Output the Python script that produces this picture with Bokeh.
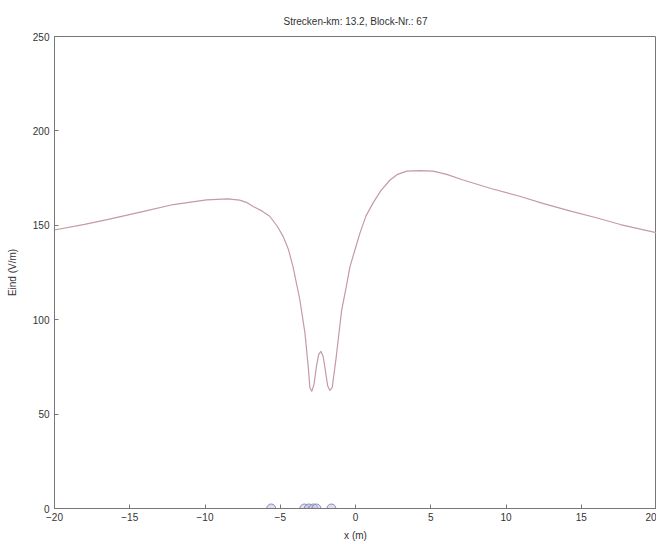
from bokeh.plotting import figure
from bokeh.models import Range1d, FixedTicker
from bokeh.embed import file_html
from bokeh.resources import INLINE

title_text = "Strecken-km: 13.2, Block-Nr.: 67"
x_label = "x (m)"
y_label = "Eind (V/m)"

x_vals = [-20, -18, -16.5, -14, -12.1, -9.9, -8.5, -7.7, -7.2, -6.8, -6.2, -5.7, -5.2, -4.8, -4.45,
          -4.15, -3.7, -3.36, -3.14, -3.03, -2.9, -2.75, -2.6, -2.45, -2.3, -2.15, -2.0, -1.85, -1.7,
          -1.55, -1.3, -0.92, -0.6, -0.37, 0.0, 0.3, 0.7, 1.18, 1.7, 2.3, 2.8, 3.4, 4.25, 5.15, 6.06,
          7.15, 9.0, 10.9, 12.5, 14.3, 16.0, 17.6, 20]
y_vals = [147.5, 150.5, 153, 157.5, 161, 163.5, 164, 163.3, 162, 160, 157.5, 154.8, 149.5, 144, 137,
          128, 110.7, 93, 75, 64, 62, 66, 75, 81.5, 83.3, 80.5, 73, 65, 62.5,
          64, 79, 105, 118, 128, 138, 146, 155, 162, 168.5, 174, 177, 178.7, 179, 178.7, 177,
          174, 169.5, 165.4, 161.5, 157.5, 154, 150.4, 146]

marker_x = [-5.6, -3.4, -3.1, -2.8, -2.6, -1.6]
marker_y = [0, 0, 0, 0, 0, 0]

x_ticks = [-20, -15, -10, -5, 0, 5, 10, 15, 20]
y_ticks = [0, 50, 100, 150, 200, 250]

FONT = "Liberation Sans"
TXT = "#333333"

p = figure(frame_width=602, frame_height=472, output_backend="svg", toolbar_location=None,
           x_range=Range1d(-20, 20), y_range=Range1d(0, 250),
           min_border_left=54, min_border_right=0, min_border_top=36, min_border_bottom=28)
p.title.text = title_text
p.title.align = "center"
p.title.text_font = FONT
p.title.text_font_size = "10px"
p.title.text_font_style = "normal"
p.title.text_color = TXT
p.title.offset = 0
p.title.standoff = 19

p.xgrid.visible = False
p.ygrid.visible = False
p.outline_line_color = "#777777"
p.outline_line_width = 1

for ax in (p.xaxis[0], p.yaxis[0]):
    ax.axis_line_color = "#777777"
    ax.major_tick_line_color = "#777777"
    ax.major_tick_in = 4
    ax.major_tick_out = 0
    ax.minor_tick_line_color = None
    ax.major_label_text_font = FONT
    ax.major_label_text_font_size = "10px"
    ax.major_label_text_color = TXT
    ax.axis_label_text_font = FONT
    ax.axis_label_text_font_size = "10px"
    ax.axis_label_text_font_style = "normal"
    ax.axis_label_text_color = TXT

p.xaxis[0].ticker = FixedTicker(ticks=x_ticks)
p.yaxis[0].ticker = FixedTicker(ticks=y_ticks)
p.xaxis[0].axis_label = x_label
p.yaxis[0].axis_label = y_label
p.xaxis[0].major_label_standoff = 4
p.xaxis[0].axis_label_standoff = 6
p.yaxis[0].major_label_standoff = 5
p.yaxis[0].axis_label_standoff = 12

p.line(x_vals, y_vals, line_color="#c49aa4", line_width=1.2)
p.scatter(marker_x, marker_y, marker="circle", size=9, fill_color="#c0c0e4", fill_alpha=0.5,
          line_color="#8888b8", line_width=1)

open("out.html", "w").write(file_html(p, INLINE))
